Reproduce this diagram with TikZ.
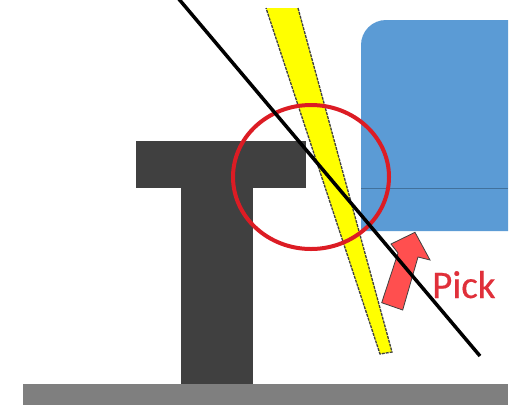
\documentclass[tikz,border=0pt]{standalone}
\usepackage{fontspec}
\setmainfont{Carlito}
\newfontfamily\pickfont[FakeBold=0.4]{Carlito}
\definecolor{floorgray}{HTML}{7F7F7F}
\definecolor{stand}{HTML}{404040}
\definecolor{bluebox}{HTML}{5B9BD5}
\definecolor{blueline}{HTML}{41719C}
\definecolor{ringred}{HTML}{DC1C24}
\definecolor{arrowred}{HTML}{FF4F4F}
\definecolor{textred}{HTML}{E0303A}
\definecolor{baryellow}{HTML}{FFFF00}
\tikzset{
  baredge/.style={draw=stand,line width=1.3pt,dash pattern=on 3pt off 1pt},
  ring/.style={draw=ringred,line width=4pt},
  pickarrow/.style={fill=arrowred,draw=stand,line width=.8pt,line join=miter},
  sightline/.style={draw=black,line width=3.5pt}
}
\begin{document}
\begin{tikzpicture}[x=1pt,y=-1pt]
\useasboundingbox (0,0) rectangle (521,405);
\fill[white] (0,0) rectangle (521,405);
% floor and stand
\fill[floorgray] (23,384) rectangle (508,405);
\fill[stand] (181,188) rectangle (253,384);
\fill[stand] (136,141) rectangle (306,188);
% blue block
\fill[bluebox] (508,231) -- (361,231) -- (361,45) arc[start angle=180,end angle=90,x radius=25,y radius=-25] -- (508,20) -- cycle;
\draw[blueline,line width=.7pt] (361,188) -- (508,188);
% yellow bar
\fill[baryellow] (298,8) -- (392,352) -- (380,354) -- (266,8) -- cycle;
\draw[baredge] (298,8) -- (392,352) -- (380,354) -- (266,8);
% ring
\draw[ring] (311,177) ellipse[x radius=78,y radius=72];
% arrow
\draw[pickarrow] (381.7,302.7) -- (402.7,310) -- (418,257) -- (430,260) -- (415,232.3) -- (391,244) -- (398,253) -- cycle;
% label
\node[text=textred,font=\pickfont\fontsize{39}{39}\selectfont,anchor=base west,inner sep=0pt] (pick) at (432,298) {Pick};
% line
\draw[sightline] (178,-2) -- (480,356);
\end{tikzpicture}
\end{document}
